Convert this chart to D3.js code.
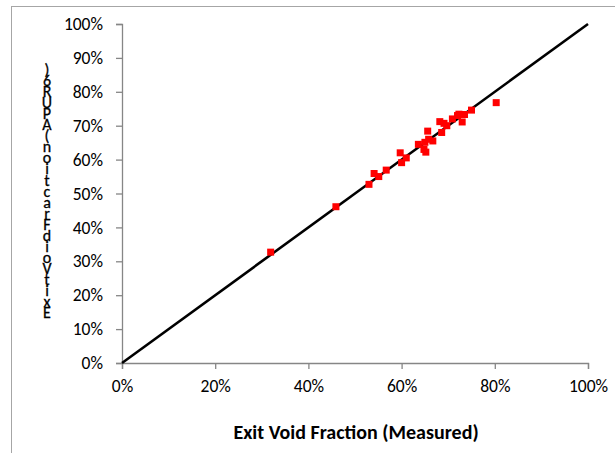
<!DOCTYPE html>
<html>
<head>
<meta charset="utf-8">
<script src="https://cdn.jsdelivr.net/npm/d3@7"></script>
<style>
  body { margin: 0; background: #fff; }
  svg { display: block; font-family: Carlito, Lato, "Open Sans", sans-serif; }
</style>
</head>
<body>
<div id="chart"></div>
<script>
// measured vs calculated exit void fraction
var measured = [0.319, 0.459, 0.530, 0.541, 0.551, 0.567, 0.597, 0.600, 0.610, 0.636,
                0.648, 0.652, 0.650, 0.656, 0.658, 0.667, 0.686, 0.682, 0.691, 0.697,
                0.709, 0.723, 0.735, 0.730, 0.720, 0.750, 0.803]
var calculated = [0.327, 0.461, 0.527, 0.559, 0.550, 0.569, 0.620, 0.591, 0.605, 0.645,
                  0.630, 0.622, 0.651, 0.684, 0.660, 0.655, 0.680, 0.712, 0.707, 0.700,
                  0.720, 0.734, 0.733, 0.711, 0.730, 0.746, 0.768]
var xTicks = [0, 0.2, 0.4, 0.6, 0.8, 1]
var yTicks = [0, 0.1, 0.2, 0.3, 0.4, 0.5, 0.6, 0.7, 0.8, 0.9, 1]
var yLabel = "Exit Void Fraction (APUR6)"
var xLabel = "Exit Void Fraction (Measured)"

var width = 615, height = 453
var plotL = 122, plotR = 588, plotT = 24, plotB = 363

var svg = d3.select('#chart').append('svg')
  .attr('width', width)
  .attr('height', height)

// outer chart border
svg.append('rect')
  .attr('x', 11.5).attr('y', 6.5)
  .attr('width', 620).attr('height', 460)
  .attr('fill', 'none')
  .attr('stroke', '#a6a6a6')
  .attr('stroke-width', 1)

var x = d3.scaleLinear().domain([0, 1]).range([plotL, plotR])
var y = d3.scaleLinear().domain([0, 1]).range([plotB, plotT])

var xAxis = svg.append('g')
  .attr('transform', 'translate(0,' + plotB + ')')
  .call(d3.axisBottom(x).tickValues(xTicks).tickFormat(d3.format('.0%')).tickSize(6).tickPadding(11))
var yAxis = svg.append('g')
  .attr('transform', 'translate(' + plotL + ',0)')
  .call(d3.axisLeft(y).tickValues(yTicks).tickFormat(d3.format('.0%')).tickSize(6).tickPadding(13))

;[xAxis, yAxis].forEach(function (g) {
  g.select('.domain').attr('stroke', '#868686').attr('stroke-width', 1.3)
  g.selectAll('.tick line').attr('stroke', '#868686').attr('stroke-width', 1.3)
  g.selectAll('.tick text')
    .attr('fill', '#000')
    .attr('font-size', 17.5)
    .attr('font-family', 'Carlito, Lato, "Open Sans", sans-serif')
})

// 1:1 line
svg.append('line')
  .attr('x1', x(0)).attr('y1', y(0))
  .attr('x2', x(1)).attr('y2', y(1))
  .attr('stroke', '#000')
  .attr('stroke-width', 2.6)

var size = 7
svg.append('g')
  .selectAll('rect')
  .data(measured)
  .enter().append('rect')
    .attr('x', function (d) { return x(d) - size / 2 })
    .attr('y', function (d, i) { return y(calculated[i]) - size / 2 })
    .attr('width', size)
    .attr('height', size)
    .attr('fill', '#ff0000')

svg.append('text')
  .attr('x', 356)
  .attr('y', 439)
  .attr('text-anchor', 'middle')
  .attr('font-size', 20)
  .attr('font-weight', 'bold')
  .text(xLabel)

// y title drawn as stacked upright glyphs, last char on top, spaces collapsed
var chars = yLabel.replace(/ /g, '').split('').reverse()
svg.append('g')
  .selectAll('text')
  .data(chars)
  .enter().append('text')
    .attr('x', 47)
    .attr('y', function (d, i) { return 75 + i * 11.05 })
    .attr('text-anchor', 'middle')
    .attr('font-size', 16)
    .attr('stroke', '#000')
    .attr('stroke-width', 0.3)
    .text(function (d) { return d })
</script>
</body>
</html>
